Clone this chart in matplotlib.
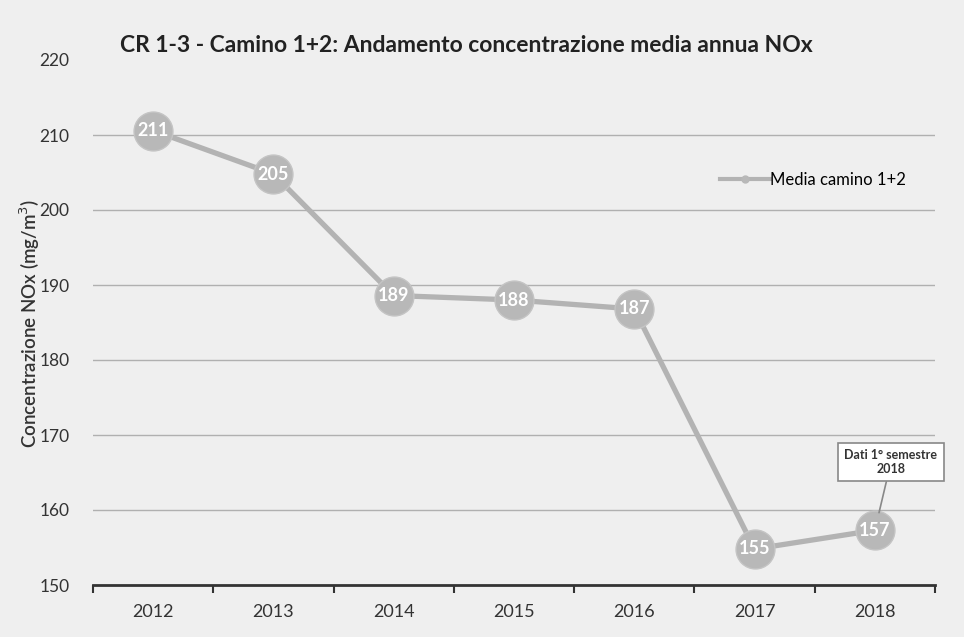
import matplotlib
matplotlib.use("Agg")
import matplotlib.pyplot as plt
from matplotlib.lines import Line2D

years = ["2012", "2013", "2014", "2015", "2016", "2017", "2018"]
values = [210.6, 204.8, 188.6, 188.0, 186.8, 154.8, 157.3]
labels = ["211", "205", "189", "188", "187", "155", "157"]
yticks = [150, 160, 170, 180, 190, 200, 210, 220]

title = "CR 1-3 - Camino 1+2: Andamento concentrazione media annua NOx"
ylabel = "Concentrazione NOx (mg/m$^3$)"
series_name = "Media camino 1+2"
note = "Dati 1° semestre\n2018"

plt.rcParams['font.family'] = ['Lato', 'DejaVu Sans']
bg = "#efefef"
fig = plt.figure(figsize=(9.64, 6.37), dpi=100, facecolor=bg)
ax = fig.add_axes([93/964, 1 - 585/637, (935-93)/964, (585-60)/637])
ax.set_facecolor(bg)

x = list(range(len(years)))
ax.plot(x, values, color="#b3b3b3", lw=3.8, marker="o", ms=28,
        markerfacecolor="#b8b8b8", markeredgecolor="#c4c4c4", zorder=3)
for xi, v, t in zip(x, values, labels):
    ax.text(xi, v, t, ha="center", va="center", color="white",
            fontsize=13, fontweight="bold", zorder=4)

ax.set_xlim(-0.5, len(years) - 0.5)
ax.set_ylim(150, 220)
ax.set_yticks(yticks)
ax.set_yticklabels([str(t) for t in yticks], fontsize=12.5, color="#333333")
ax.tick_params(axis="y", length=0, pad=17)
ax.set_xticks(x)
ax.set_xticklabels(years, fontsize=13, color="#333333")
ax.tick_params(axis="x", length=0, pad=14)
ax.set_xticks([i + 0.5 for i in range(-1, len(years))], minor=True)
ax.tick_params(axis="x", which="minor", length=6, width=1.5, color="#333333", direction="out")

for t in yticks[1:-1]:
    ax.axhline(t, color="#b0b0b0", lw=1.0, zorder=1)
for s in ["top", "right", "left"]:
    ax.spines[s].set_visible(False)
ax.spines["bottom"].set_color("#333333")
ax.spines["bottom"].set_linewidth(2.0)

ax.set_ylabel(ylabel, fontsize=13.5, color="#333333", fontweight="semibold")
ax.yaxis.set_label_coords((42-93)/842, (585-323)/525)
fig.text(120/964, 1 - 45/637, title, fontsize=16.5, fontweight="bold",
         color="#222222", va="center", ha="left")

handle = Line2D([], [], color="#b3b3b3", lw=3, marker="o", ms=5,
                markerfacecolor="#b8b8b8", markeredgecolor="#b8b8b8")
ax.legend([handle], [series_name], loc="center left",
          bbox_to_anchor=((712-93)/842, (585-180)/525), frameon=False,
          fontsize=12, handlelength=3.0, handletextpad=0.0, borderpad=0)

ax.annotate(note, xy=(x[-1], values[-1]), xytext=(891/964, 1 - 462/637),
            textcoords="figure fraction", ha="center", va="center",
            fontsize=9, fontweight="bold", color="#333333",
            bbox=dict(boxstyle="square,pad=0.5", fc="white", ec="#888888", lw=1.2),
            arrowprops=dict(arrowstyle="-", color="#888888", lw=1.2,
                            shrinkA=0, shrinkB=13), zorder=5)

fig.savefig("out.png", dpi=100, facecolor=bg)
